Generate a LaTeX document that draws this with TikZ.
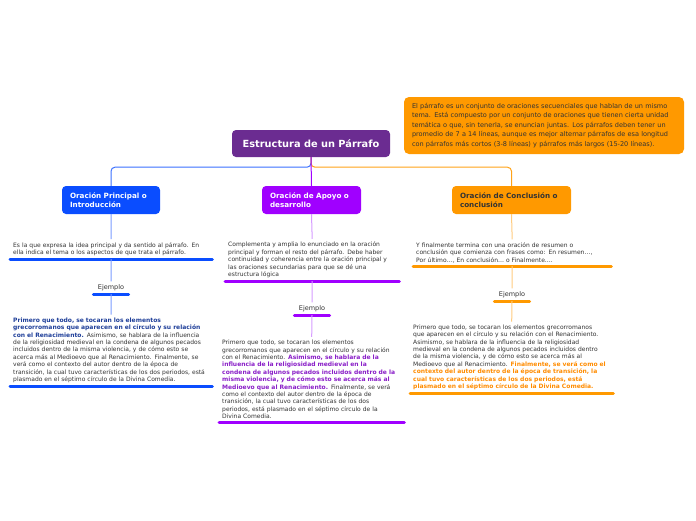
\documentclass[tikz,border=0pt]{standalone}
\usepackage{fontspec}
\setmainfont{DejaVu Sans}
\usetikzlibrary{calc}
\definecolor{ttl}{HTML}{6B2C91}
\definecolor{cblue}{HTML}{0A4DFF}
\definecolor{cpurp}{HTML}{A000FF}
\definecolor{corng}{HTML}{FF9900}
\definecolor{lblue}{HTML}{7C9CFF}
\definecolor{lpurp}{HTML}{D79CFF}
\definecolor{lorng}{HTML}{FFCC80}
\definecolor{txt}{HTML}{333333}
\definecolor{exblue}{HTML}{1F3F99}
\definecolor{expurp}{HTML}{8A1FC8}
\definecolor{exorng}{HTML}{FF8C00}
\newcommand\hlb[1]{{\bfseries\color{exblue}#1}}
\newcommand\hlp[1]{{\bfseries\color{expurp}#1}}
\newcommand\hlo[1]{{\bfseries\color{exorng}#1}}
\tikzset{
  hdr/.style={rounded corners=4pt, minimum height=28pt, inner xsep=8pt, align=left, font=\bfseries\fontsize{7.2}{9.2}\selectfont},
  body/.style={inner xsep=3pt, inner ysep=3pt, align=left, text=txt, font=\fontsize{6.0}{7.4}\selectfont},
  ej/.style={inner ysep=3pt, text=txt, minimum width=35pt, font=\fontsize{6.5}{7.5}\selectfont},
  ul/.style={line width=3pt, line cap=round},
  lnk/.style={line width=1pt}
}
\begin{document}
\begin{tikzpicture}[x=1pt,y=-1pt]
\fill[white] (0,0) rectangle (696,520);
\useasboundingbox (0,0) rectangle (696,520);

% title
\node[fill=ttl, rounded corners=4pt, minimum width=158pt, minimum height=27pt, text=white, font=\bfseries\fontsize{9.8}{11}\selectfont] (title) at (311,143.5) {Estructura de un Párrafo};

% note
\node[fill=corng, rounded corners=5pt, minimum height=57pt, inner xsep=8pt, text width=264pt, align=left, text=txt, font=\fontsize{6.55}{9.5}\selectfont] (note) at (544,125.5) {El párrafo es un conjunto de oraciones secuenciales que hablan de un mismo\\tema. Está compuesto por un conjunto de oraciones que tienen cierta unidad\\temática o que, sin tenerla, se enuncian juntas. Los párrafos deben tener un\\promedio de 7 a 14 líneas, aunque es mejor alternar párrafos de esa longitud\\con párrafos más cortos (3-8 líneas) y párrafos más largos (15-20 líneas).};

% header boxes
\node[hdr, fill=cblue, text=white, text width=82pt] (bbox) at (111,200) {Oración Principal o\\Introducción};
\node[hdr, fill=cpurp, text=white, text width=83pt] (pbox) at (311.5,200) {Oración de Apoyo o\\desarrollo};
\node[hdr, fill=corng, text=txt, text width=103pt] (obox) at (511.5,200) {Oración de Conclusión o\\conclusión};

% connectors from title
\draw[lnk, draw=cblue!80, rounded corners=4pt] (title.south) -- ++(0,10) -| (bbox.north);
\draw[lnk, draw=corng!90, rounded corners=4pt] (title.south) -- ++(0,10) -| (obox.north);
\draw[lnk, draw=cpurp] (title.south) -- (pbox.north);

% blue column
\node[body, text width=196pt, anchor=south west] (btxt) at (10,259) {Es la que expresa la idea principal y da sentido al párrafo. En\\ella indica el tema o los aspectos de que trata el párrafo.};
\draw[ul, cblue] (btxt.south west) -- (btxt.south east);
\node[ej, anchor=south] (bej) at (111,294) {Ejemplo};
\draw[ul, cblue] (bej.south west) -- (bej.south east);
\node[body, text width=196pt, anchor=south west] (bex) at (10,386) {\hlb{Primero que todo, se tocaran los elementos}\\\hlb{grecorromanos que aparecen en el círculo y su relación}\\\hlb{con el Renacimiento.} Asimismo, se hablara de la influencia\\de la religiosidad medieval en la condena de algunos pecados\\incluidos dentro de la misma violencia, y de cómo esto se\\acerca más al Medioevo que al Renacimiento. Finalmente, se\\verá como el contexto del autor dentro de la época de\\transición, la cual tuvo características de los dos periodos, está\\plasmado en el séptimo círculo de la Divina Comedia.};
\draw[ul, cblue] (bex.south west) -- (bex.south east);
\draw[lnk, lblue] (bbox.south) -- (btxt.north);
\draw[lnk, lblue] (btxt.south) -- (bej.north);
\draw[lnk, lblue] (bej.south) -- (bex.north);

% purple column
\node[body, text width=168pt, anchor=south west] (ptxt) at (225,281) {Complementa y amplia lo enunciado en la oración\\principal y forman el resto del párrafo. Debe haber\\continuidad y coherencia entre la oración principal y\\las oraciones secundarias para que se dé una\\estructura lógica};
\draw[ul, cpurp] (ptxt.south west) -- (ptxt.south east);
\node[ej, anchor=south] (pej) at (312,315) {Ejemplo};
\draw[ul, cpurp] (pej.south west) -- (pej.south east);
\node[body, text width=179pt, anchor=south west] (pex) at (219,422) {Primero que todo, se tocaran los elementos\\grecorromanos que aparecen en el círculo y su relación\\con el Renacimiento. \hlp{Asimismo, se hablara de la}\\\hlp{influencia de la religiosidad medieval en la}\\\hlp{condena de algunos pecados incluidos dentro de la}\\\hlp{misma violencia, y de cómo esto se acerca más al}\\\hlp{Medioevo que al Renacimiento.} Finalmente, se verá\\como el contexto del autor dentro de la época de\\transición, la cual tuvo características de los dos\\periodos, está plasmado en el séptimo círculo de la\\Divina Comedia.};
\draw[ul, cpurp] (pex.south west) -- (pex.south east);
\draw[lnk, lpurp] (pbox.south) -- (ptxt.north);
\draw[lnk, lpurp] (ptxt.south) -- (pej.north);
\draw[lnk, lpurp] (pej.south) -- (pex.north);

% orange column
\node[body, text width=192pt, anchor=south west] (otxt) at (413,266) {Y finalmente termina con una oración de resumen o\\conclusión que comienza con frases como: En resumen…,\\Por último…, En conclusión… o Finalmente….};
\draw[ul, corng] (otxt.south west) -- (otxt.south east);
\node[ej, anchor=south] (oej) at (512,301) {Ejemplo};
\draw[ul, corng] (oej.south west) -- (oej.south east);
\node[body, text width=197pt, anchor=south west] (oex) at (410,393) {Primero que todo, se tocaran los elementos grecorromanos\\que aparecen en el círculo y su relación con el Renacimiento.\\Asimismo, se hablara de la influencia de la religiosidad\\medieval en la condena de algunos pecados incluidos dentro\\de la misma violencia, y de cómo esto se acerca más al\\Medioevo que al Renacimiento. \hlo{Finalmente, se verá como el}\\\hlo{contexto del autor dentro de la época de transición, la}\\\hlo{cual tuvo características de los dos periodos, está}\\\hlo{plasmado en el séptimo círculo de la Divina Comedia.}};
\draw[ul, corng] (oex.south west) -- (oex.south east);
\draw[lnk, lorng] (obox.south) -- (otxt.north);
\draw[lnk, lorng] (otxt.south) -- (oej.north);
\draw[lnk, lorng] (oej.south) -- (oex.north);
\end{tikzpicture}
\end{document}
